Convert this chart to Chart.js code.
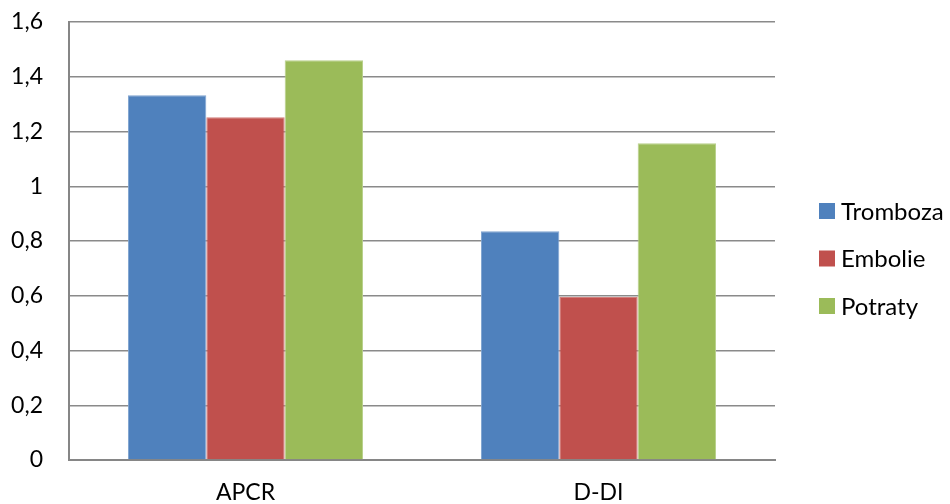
<!DOCTYPE html>
<html>
<head>
<meta charset="utf-8">
<script src="https://cdn.jsdelivr.net/npm/chart.js@4"></script>
<style>
  html, body { margin: 0; padding: 0; background: #fff; }
  #wrap { width: 950px; height: 504px; position: relative; }
</style>
</head>
<body>
<div id="wrap"><canvas id="c" width="950" height="504"></canvas></div>
<script>
// Categories and series
const categories = ['APCR', 'D-DI'];
const seriesNames = ['Tromboza', 'Embolie', 'Potraty'];
const tromboza = [1.332, 0.836];
const embolie = [1.252, 0.595];
const potraty = [1.46, 1.157];
const seriesColors = ['#4F81BD', '#C0504D', '#9BBB59'];
const seriesEdges = ['#7fa3d0', '#d37f7c', '#b8d08a'];

const FONT = 'Lato, "Liberation Sans", sans-serif';

// Legend drawn at the right of the plot, one swatch per series
const sideLegend = {
  id: 'sideLegend',
  afterDraw(chart) {
    const ctx = chart.ctx;
    ctx.save();
    ctx.font = '24px ' + FONT;
    ctx.textBaseline = 'middle';
    ctx.textAlign = 'left';
    const x0 = 819, y0 = 211, step = 47.5, box = 16;
    chart.data.datasets.forEach((ds, i) => {
      const cy = y0 + i * step;
      ctx.fillStyle = ds.backgroundColor;
      ctx.fillRect(x0, cy - box / 2, box, box);
      ctx.fillStyle = '#000';
      ctx.fillText(ds.label, x0 + box + 6, cy + 1);
    });
    ctx.restore();
  }
};

const values = [tromboza, embolie, potraty];

new Chart(document.getElementById('c'), {
  type: 'bar',
  data: {
    labels: categories,
    datasets: seriesNames.map((name, i) => ({
      label: name,
      data: values[i],
      backgroundColor: seriesColors[i],
      borderColor: seriesEdges[i],
      borderWidth: 1,
      borderSkipped: 'bottom',
      barPercentage: 1,
      categoryPercentage: 0.666
    }))
  },
  options: {
    responsive: false,
    animation: false,
    devicePixelRatio: 1,
    layout: { padding: { top: 22, right: 175, left: 0, bottom: 0 } },
    plugins: {
      legend: { display: false },
      tooltip: { enabled: false }
    },
    scales: {
      x: {
        grid: { display: false, drawTicks: false },
        border: { display: true, color: '#868686', width: 2 },
        ticks: {
          color: '#000',
          font: { family: FONT, size: 23 },
          padding: 19
        },
        afterFit(s) { s.height = 44; }
      },
      y: {
        min: 0,
        max: 1.6,
        grid: { color: '#8a8a8a', lineWidth: 1.5, drawTicks: false },
        border: { display: true, color: '#868686', width: 2 },
        ticks: {
          stepSize: 0.2,
          color: '#000',
          font: { family: FONT, size: 23 },
          padding: 26,
          callback: (v) => {
            const r = Math.round(v * 10) / 10;
            return String(r).replace('.', ',');
          }
        },
        afterFit(s) {
          s.width = 69;
          s.paddingTop = 0;
          s.paddingBottom = 0;
        }
      }
    }
  },
  plugins: [sideLegend]
});
</script>
</body>
</html>
